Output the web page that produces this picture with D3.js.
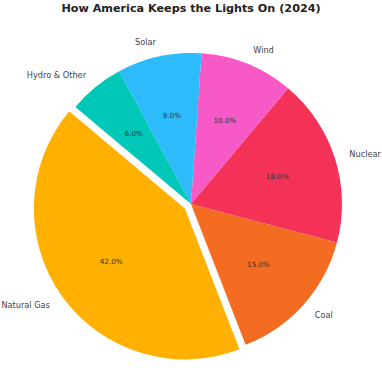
<!DOCTYPE html>
<html>
<head>
<meta charset="utf-8">
<script src="https://cdn.jsdelivr.net/npm/d3@7"></script>
<style>
  body { margin: 0; background: #fff; }
  svg { display: block; font-family: "DejaVu Sans", sans-serif; }
</style>
</head>
<body>
<svg id="chart"></svg>
<script>
// data (matplotlib-style order, counterclockwise)
const sources = ["Natural Gas", "Coal", "Nuclear", "Wind", "Solar", "Hydro & Other"];
const shares = [42, 15, 18, 10, 9, 6];
const colors = ["#FFB000", "#F36C21", "#F43257", "#F75AC6", "#2EBBFC", "#00C8B8"];
const explode = [0.05, 0, 0, 0, 0, 0];

const width = 382, height = 368;
const cx = 191, cy = 204, radius = 151;
const deg = Math.PI / 180;

const svg = d3.select("#chart")
    .attr("width", width)
    .attr("height", height);

svg.append("text")
    .attr("x", width / 2)
    .attr("y", 12)
    .attr("text-anchor", "middle")
    .attr("font-size", 11.2)
    .attr("font-weight", "bold")
    .attr("fill", "#222")
    .text("How America Keeps the Lights On (2024)");

// startangle 140 deg (math), going counterclockwise -> d3 angles decrease
const start = (90 - 140) * deg;
const pie = d3.pie()
    .sort(null)
    .value(d => d.value)
    .startAngle(start)
    .endAngle(start - 2 * Math.PI);

const arcs = pie(sources.map((s, i) => ({name: s, value: shares[i], color: colors[i], explode: explode[i]})));

const arc = d3.arc().innerRadius(0).outerRadius(radius);

const g = svg.append("g").attr("transform", `translate(${cx},${cy})`);

const slice = g.selectAll("g.slice")
    .data(arcs)
    .enter()
    .append("g")
    .attr("class", "slice")
    .attr("transform", d => {
        const mid = (d.startAngle + d.endAngle) / 2;
        const off = d.data.explode * radius;
        return `translate(${Math.sin(mid) * off},${-Math.cos(mid) * off})`;
    });

slice.append("path")
    .attr("d", arc)
    .attr("fill", d => d.data.color);

// percentage labels at 0.6 r
slice.append("text")
    .attr("x", d => Math.sin((d.startAngle + d.endAngle) / 2) * radius * 0.6)
    .attr("y", d => -Math.cos((d.startAngle + d.endAngle) / 2) * radius * 0.6)
    .attr("text-anchor", "middle")
    .attr("dominant-baseline", "central")
    .attr("font-size", 7.2)
    .attr("fill", "#333")
    .text(d => d.data.value.toFixed(1) + "%");

// category labels at 1.1 r
slice.append("text")
    .attr("x", d => Math.sin((d.startAngle + d.endAngle) / 2) * radius * 1.1)
    .attr("y", d => -Math.cos((d.startAngle + d.endAngle) / 2) * radius * 1.1)
    .attr("text-anchor", d => Math.sin((d.startAngle + d.endAngle) / 2) < 0 ? "end" : "start")
    .attr("dominant-baseline", "central")
    .attr("font-size", 8.2)
    .attr("fill", "#444")
    .text(d => d.data.name);
</script>
</body>
</html>
